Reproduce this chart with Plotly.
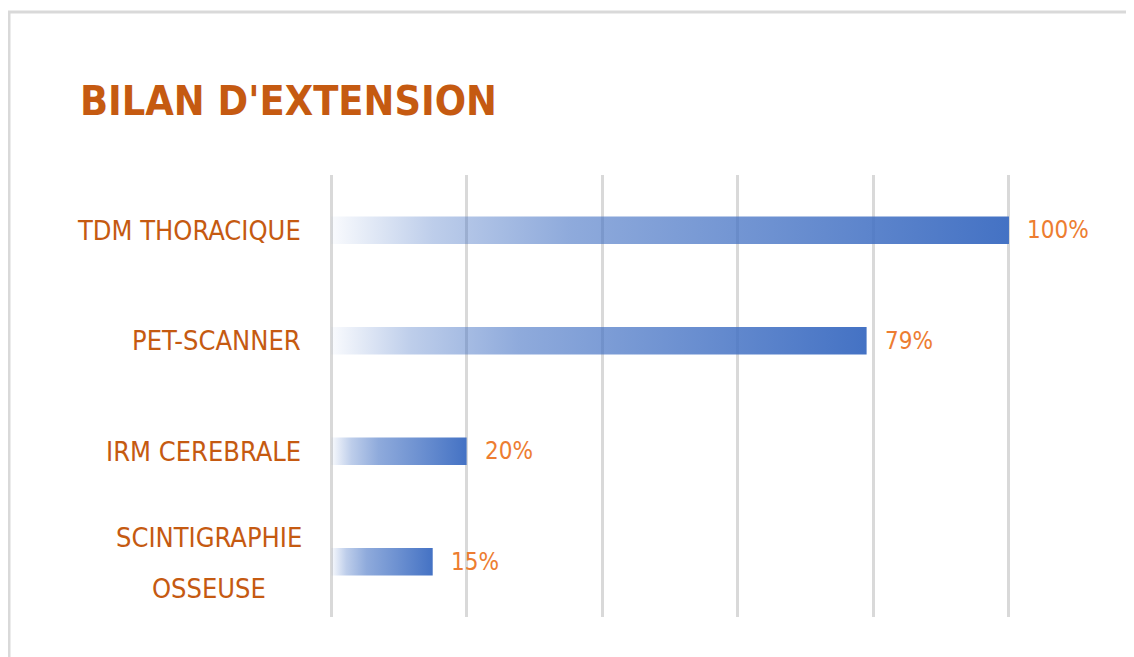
import plotly.graph_objects as go

categories = ["TDM THORACIQUE", "PET-SCANNER", "IRM CEREBRALE", "SCINTIGRAPHIE<br>OSSEUSE"]
values = [100, 79, 20, 15]
value_labels = ["100%", "79%", "20%", "15%"]
x_ticks = [0, 20, 40, 60, 80, 100]

FONT = "DejaVu Sans Condensed, Liberation Sans Narrow, Lato, sans-serif"
BLUE_SCALE = [
    [0.0, "rgba(68,114,196,0.03)"],
    [0.15, "rgba(68,114,196,0.35)"],
    [0.35, "rgba(68,114,196,0.6)"],
    [0.65, "rgba(68,114,196,0.78)"],
    [1.0, "rgba(68,114,196,1)"],
]
half = 0.125

fig = go.Figure()
for i, (cat, v) in enumerate(zip(categories, values)):
    fig.add_trace(go.Scatter(
        x=[0, v, v, 0, 0],
        y=[i - half, i - half, i + half, i + half, i - half],
        mode="lines",
        line=dict(width=0),
        fill="toself",
        fillgradient=dict(type="horizontal", colorscale=BLUE_SCALE, start=0, stop=v),
        hoverinfo="skip",
        showlegend=False,
    ))

for i, (v, lab) in enumerate(zip(values, value_labels)):
    fig.add_annotation(
        x=v, y=i, xref="x", yref="y", text=lab, showarrow=False,
        xanchor="left", yanchor="middle", xshift=16,
        font=dict(family=FONT, size=24, color="#ED7D31"),
    )

LINE_GAP = 51
for i, cat in enumerate(categories):
    lines = cat.split("<br>")
    n = len(lines)
    for k, line in enumerate(lines):
        shift = (k - (n - 1) / 2) * LINE_GAP
        fig.add_annotation(
            x=0, y=i, xref="x", yref="y", text=line, showarrow=False,
            xanchor="center" if n > 1 else "right", yanchor="middle",
            xshift=-28 - (94 if n > 1 else 0), yshift=-shift - (1 if n > 1 else 0),
            font=dict(family=FONT, size=27, color="#C55A11"),
        )

# outer frame (page has 8px body margin)
W, H = 1126, 649
L, T, PW, PH = 322, 167, 680, 442
fig.add_shape(type="rect", xref="paper", yref="paper",
              x0=(1 - L) / PW, x1=2, y0=-1, y1=(PH + (T - 4)) / PH,
              line=dict(color="#D9D9D9", width=3), fillcolor="rgba(0,0,0,0)", layer="below")

fig.update_layout(
    width=W, height=H,
    margin=dict(l=L, r=W - L - PW, t=T, b=H - T - PH),
    paper_bgcolor="white", plot_bgcolor="white",
    title=dict(text="<b>BILAN D'EXTENSION</b>", x=72 / W, xanchor="left",
               y=1 - 93 / H, yanchor="middle", yref="container",
               font=dict(family=FONT, size=41, color="#C55A11")),
    xaxis=dict(range=[-0.15, 100.15], tickvals=x_ticks, showticklabels=False,
               showgrid=True, gridcolor="#D9D9D9", gridwidth=3, zeroline=False,
               showline=False, fixedrange=True),
    yaxis=dict(range=[3.5, -0.5], showticklabels=False, showgrid=False,
               zeroline=False, showline=False),
)

fig.write_html("out.html")
